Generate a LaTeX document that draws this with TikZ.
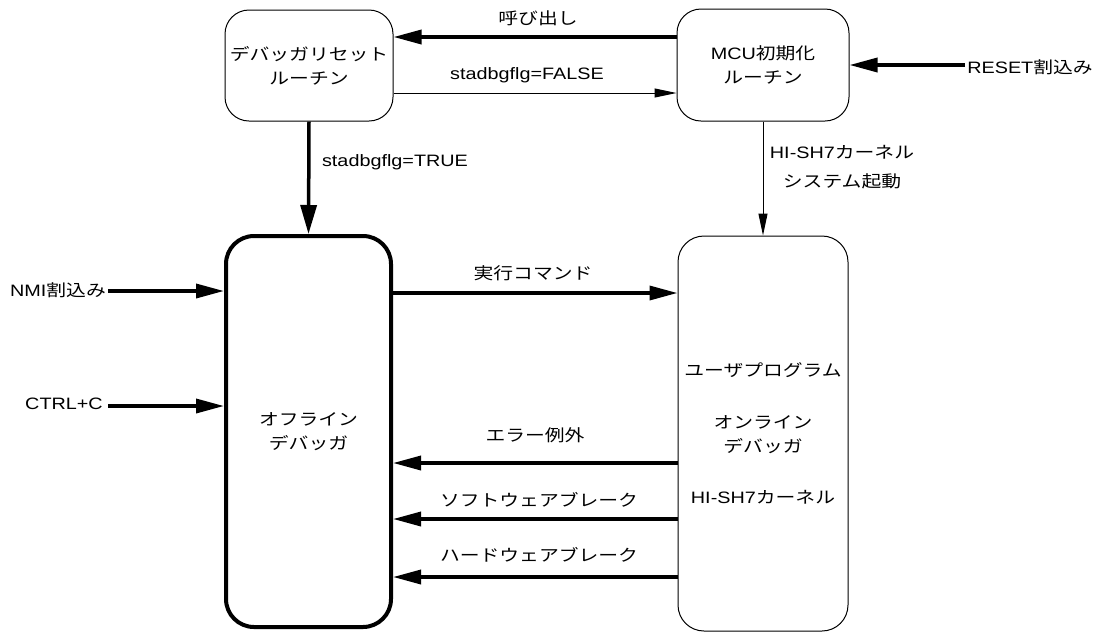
\documentclass[tikz,border=0pt]{standalone}
\usepackage{fontspec}
\setmainfont[FakeStretch=1.2]{Liberation Sans}
\newfontfamily\jp[FakeStretch=1.2]{Noto Sans CJK JP}
\newcommand\J[1]{{\jp #1}}
\usetikzlibrary{arrows.meta}
\begin{document}
\begin{tikzpicture}[x=1pt,y=-1pt,
  txt/.style={font=\fontsize{16.5}{24}\selectfont, align=center, inner sep=0pt},
  box/.style={txt, draw, rounded corners=24pt, line width=1pt},
  bigbox/.style={box, line width=4pt, rounded corners=28pt},
  thickarr/.style={line width=3.5pt, -{Triangle[length=28pt,width=14pt]}},
  vthickarr/.style={line width=3.5pt, -{Triangle[length=29pt,width=16pt]}},
  thinarr/.style={line width=1pt, -{Triangle[length=22pt,width=9pt]}}]
\useasboundingbox (0,0) rectangle (1098,633);

% boxes
\node[box, minimum width=168pt, minimum height=111pt] (rst) at (309,65.5)
  {\J{デバッガリセット}\\\J{ルーチン}};
\node[box, minimum width=172pt, minimum height=112pt] (mcu) at (763,65)
  {MCU\J{初期化}\\\J{ルーチン}};
\node[bigbox, minimum width=165pt, minimum height=391pt] (off) at (308.5,431.5)
  {\J{オフライン}\\\J{デバッガ}};
\node[box, minimum width=170pt, minimum height=395pt, rounded corners=26pt] (usr) at (763,433.5)
  {\J{ユーザプログラム}\\[28pt]\J{オンライン}\\\J{デバッガ}\\[27pt]HI-SH7\J{カーネル}};

% external labels
\node[txt] (reset) at (1030,67) {RESET\J{割込み}};
\node[txt, anchor=east] (nmi) at (106,290) {NMI\J{割込み}};
\node[txt, anchor=east] (ctrlc) at (103,404) {CTRL+C};

% connector labels
\node[txt] (lcall) at (538,18) {\J{呼び出し}};
\node[txt] (lfalse) at (527,75) {stadbgflg=FALSE};
\node[txt] (ltrue) at (395,162) {stadbgflg=TRUE};
\node[txt] (lkernel) at (842,167.5) {HI-SH7\J{カーネル}\\[5pt]\J{システム起動}};
\node[txt] (lexec) at (533,273) {\J{実行コマンド}};
\node[txt] (lerr) at (535,435) {\J{エラー例外}};
\node[txt] (lsoft) at (539,500) {\J{ソフトウェアブレーク}};
\node[txt] (lhard) at (539,555) {\J{ハードウェアブレーク}};

% connectors
\draw[thickarr] (mcu.west |- 0,37) -- (rst.east |- 0,37);
\draw[thinarr] (rst.east |- 0,93) -- (mcu.west |- 0,93);
\draw[thickarr] ([xshift=-2pt]reset.west |- mcu.east) -- (mcu.east);
\draw[thinarr] (mcu.south) -- (usr.north);
\draw[vthickarr] (rst.south) -- (off.north);
\draw[thickarr] ([xshift=2pt]nmi.east |- 0,291) -- (off.west |- 0,291);
\draw[thickarr] ([xshift=5pt]ctrlc.east |- 0,406) -- (off.west |- 0,406);
\draw[thickarr] (off.east |- 0,293) -- (usr.west |- 0,293);
\draw[thickarr] (usr.west |- 0,463) -- (off.east |- 0,463);
\draw[thickarr] (usr.west |- 0,519) -- (off.east |- 0,519);
\draw[thickarr] (usr.west |- 0,577) -- (off.east |- 0,577);
\end{tikzpicture}
\end{document}
